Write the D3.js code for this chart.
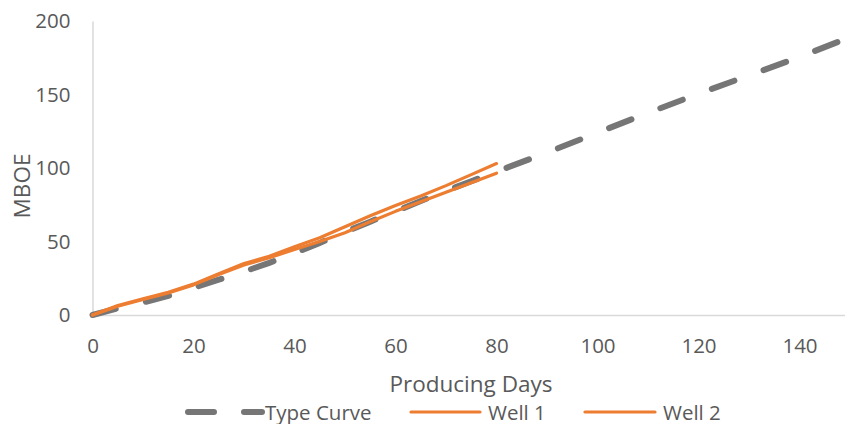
<!DOCTYPE html>
<html>
<head>
<meta charset="utf-8">
<script src="https://cdn.jsdelivr.net/npm/d3@7"></script>
<style>
  html, body { margin: 0; padding: 0; background: #fff; }
  svg text { font-family: "Open Sans", "Noto Sans", sans-serif; fill: #595959; }
</style>
</head>
<body>
<svg id="chart" width="845" height="424"></svg>
<script>
// Cumulative production (MBOE) by producing day
const typeDays  = [0, 5, 10, 15, 20, 25, 30, 35, 40, 45, 50, 55, 60, 65, 70, 75, 80, 90, 100, 110, 120, 130, 140, 150];
const typeCurve = [0, 4.5, 8.5, 13, 18.5, 24, 29.5, 35.5, 42, 49, 56.5, 63.5, 70.5, 77.5, 84.5, 91, 97.5, 110.5, 124, 137.5, 150.5, 163, 175.5, 189];

const wellDays = [0, 5, 10, 15, 20, 25, 30, 35, 40, 45, 50, 55, 60, 65, 70, 75, 80];
const well1    = [0, 6.5, 11, 15.5, 21, 28, 35, 40, 46.5, 52.5, 60, 67.5, 74.5, 81, 88, 95.5, 103];
const well2    = [0, 6, 10.5, 15, 20.5, 27.5, 34, 39, 44.5, 50, 56, 63.5, 70.5, 77, 83.5, 90, 96.5];

const seriesNames = ["Type Curve", "Well 1", "Well 2"];
const xTicks = [0, 20, 40, 60, 80, 100, 120, 140];
const yTicks = [0, 50, 100, 150, 200];

const svg = d3.select("#chart");
const x = d3.scaleLinear().domain([0, 150]).range([92.5, 850]);
const y = d3.scaleLinear().domain([0, 200]).range([315, 21]);

const grey = "#767676";
const orange = "#ED7D31";
const axisColor = "#D9D9D9";

// Axes
const yAxis = svg.append("g").attr("transform", `translate(${x(0)},0)`)
  .call(d3.axisLeft(y).tickValues(yTicks).tickSize(0).tickPadding(22).tickFormat(d3.format("d")));
const xAxis = svg.append("g").attr("transform", `translate(0,${y(0)})`)
  .call(d3.axisBottom(x).tickValues(xTicks).tickSize(0).tickPadding(23.5).tickFormat(d3.format("d")));
[xAxis, yAxis].forEach(g => {
  g.select(".domain").attr("stroke", axisColor).attr("stroke-width", 1.5);
  g.selectAll("text").attr("font-size", 20.5).attr("fill", "#595959")
    .style("font-family", '"Open Sans", sans-serif');
});

// Axis titles
svg.append("text").attr("x", 471).attr("y", 392)
  .attr("text-anchor", "middle").attr("font-size", 22.5).text("Producing Days");
svg.append("text").attr("transform", "translate(30,186) rotate(-90)")
  .attr("text-anchor", "middle").attr("font-size", 22.5).text("MBOE");

// Lines
const line = d3.line().x(d => x(d[0])).y(d => y(d[1]));
const typePts = typeDays.map((d, i) => [d, typeCurve[i]]);
const w1Pts = wellDays.map((d, i) => [d, well1[i]]);
const w2Pts = wellDays.map((d, i) => [d, well2[i]]);

svg.append("path").datum(typePts).attr("d", line)
  .attr("fill", "none").attr("stroke", grey).attr("stroke-width", 6)
  .attr("stroke-linecap", "round").attr("stroke-dasharray", "24,31");

[w1Pts, w2Pts].forEach(pts => {
  svg.append("path").datum(pts).attr("d", line)
    .attr("fill", "none").attr("stroke", orange).attr("stroke-width", 3.2)
    .attr("stroke-linecap", "round").attr("stroke-linejoin", "round");
});

// Legend
const legendItems = [
  { name: seriesNames[0], x0: 188, x1: 262, tx: 265, color: grey, width: 6, dash: "26,30" },
  { name: seriesNames[1], x0: 411, x1: 480, tx: 488, color: orange, width: 3.2, dash: null },
  { name: seriesNames[2], x0: 585, x1: 655, tx: 663, color: orange, width: 3.2, dash: null }
];
const ly = 412;
legendItems.forEach(it => {
  const l = svg.append("line").attr("x1", it.x0).attr("x2", it.x1).attr("y1", ly).attr("y2", ly)
    .attr("stroke", it.color).attr("stroke-width", it.width).attr("stroke-linecap", "round");
  if (it.dash) l.attr("stroke-dasharray", it.dash);
  svg.append("text").attr("x", it.tx).attr("y", ly + 7.5).attr("font-size", 20.5).text(it.name);
});
</script>
</body>
</html>
